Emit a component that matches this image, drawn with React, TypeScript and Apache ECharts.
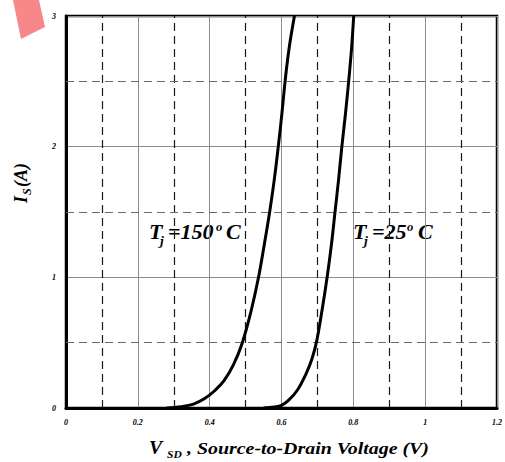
import React, { useEffect, useRef } from "react";
import * as echarts from "echarts";

// Source-to-drain voltage (V) vs source current (A) at two junction temperatures
const vsdHot = [0.28, 0.32, 0.355, 0.385, 0.413, 0.44, 0.466, 0.491, 0.516, 0.536, 0.552, 0.567, 0.58, 0.591, 0.601, 0.61, 0.621, 0.636];
const isHot = [0, 0.01, 0.03, 0.07, 0.13, 0.21, 0.33, 0.5, 0.75, 1.0, 1.25, 1.5, 1.75, 2.0, 2.25, 2.5, 2.75, 3.0];

const vsdCold = [0.55, 0.58, 0.6, 0.62, 0.645, 0.668, 0.684, 0.697, 0.713, 0.727, 0.739, 0.749, 0.759, 0.768, 0.778, 0.787, 0.795, 0.801];
const isCold = [0, 0.008, 0.02, 0.06, 0.14, 0.26, 0.37, 0.5, 0.75, 1.0, 1.25, 1.5, 1.75, 2.0, 2.25, 2.5, 2.75, 3.0];

// Dashed half-division grid lines
const dashedV = [0.1, 0.3, 0.5, 0.7, 0.9, 1.1];
const dashedI = [0.5, 1.5, 2.5];

const xTickLabels: Record<string, string> = {
  "0": "0", "0.2": "0.2", "0.4": "0.4", "0.6": "0.6", "0.8": "0.8", "1": "1", "1.2": "1.2",
};

const SERIF = "'Liberation Serif', 'Times New Roman', serif";

function piece(text: string, x: number, baseline: number, size: number, sx = 1) {
  return {
    type: "text",
    x,
    y: baseline - size * 0.34,
    scaleX: sx,
    silent: true,
    style: {
      text,
      fill: "#000",
      font: `italic bold ${size}px ${SERIF}`,
      align: "left",
      verticalAlign: "middle",
    },
  };
}

export default function App() {
  const ref = useRef<HTMLDivElement>(null);

  useEffect(() => {
    if (!ref.current) return;
    document.body.style.margin = "0";
    const chart = echarts.init(ref.current, undefined, { renderer: "svg" });

    const zip = (xs: number[], ys: number[]) => xs.map((v, i) => [v, ys[i]]);

    chart.setOption({
      animation: false,
      backgroundColor: "#fff",
      grid: {
        left: 66,
        right: 5,
        top: 16,
        bottom: 54,
        show: true,
        borderColor: "#000",
        borderWidth: 2.5,
      },
      xAxis: {
        type: "value",
        min: 0,
        max: 1.2,
        interval: 0.2,
        axisLine: { show: true, lineStyle: { color: "#000", width: 3 } },
        axisTick: { show: false },
        axisLabel: {
          margin: 10,
          color: "#000",
          fontFamily: SERIF,
          fontStyle: "italic",
          fontWeight: "bold",
          fontSize: 8,
          formatter: (v: number) => xTickLabels[String(Math.round(v * 10) / 10)] ?? "",
        },
        splitLine: { show: true, lineStyle: { color: "#8c8c8c", width: 1 } },
      },
      yAxis: {
        type: "value",
        min: 0,
        max: 3,
        interval: 1,
        axisLine: { show: true, lineStyle: { color: "#000", width: 3 } },
        axisTick: { show: false },
        axisLabel: {
          margin: 10,
          color: "#000",
          fontFamily: SERIF,
          fontStyle: "italic",
          fontWeight: "bold",
          fontSize: 8,
        },
        splitLine: { show: true, lineStyle: { color: "#8c8c8c", width: 1 } },
      },
      graphic: [
        {
          type: "polygon",
          silent: true,
          shape: { points: [[13, 0], [39, 0], [45, 27], [21, 39]] },
          style: { fill: "#f8878a" },
        },
        // Curve annotations
        piece("T", 149, 239, 21, 1.05),
        piece("j", 160, 245, 13, 1.05),
        piece("=150", 168, 239, 21, 1.05),
        piece("o", 216, 231, 12, 1.05),
        piece("C", 226, 239, 21, 1.05),
        piece("T", 353, 239, 21, 1.05),
        piece("j", 364, 245, 13, 1.05),
        piece("=25", 372, 239, 21, 1.05),
        piece("o", 407, 231, 12, 1.05),
        piece("C", 418, 239, 21, 1.05),
        // X axis title
        piece("V", 149, 454, 18, 1.1),
        piece("SD", 167, 458, 11, 1.05),
        piece(", Source-to-Drain Voltage (V)", 187, 454, 17, 1.17),
        // Y axis title (rotated)
        {
          type: "group",
          x: 27,
          y: 203,
          rotation: Math.PI / 2,
          silent: true,
          children: [
            piece("I", 0, 0, 18),
            piece("S", 8, 4, 12),
            piece("(A)", 16, 0, 18),
          ],
        },
      ],
      series: [
        {
          type: "line",
          data: [],
          silent: true,
          markLine: {
            silent: true,
            symbol: "none",
            label: { show: false },
            data: [
              ...dashedV.map((v) => ({
                xAxis: v,
                lineStyle: { color: "#1a1a1a", width: 1.2, type: [8, 5] },
              })),
              ...dashedI.map((v) => ({
                yAxis: v,
                lineStyle: { color: "#6a6a6a", width: 1.2, type: [8, 5] },
              })),
            ],
          },
        },
        {
          name: "Tj=150°C",
          type: "line",
          data: zip(vsdHot, isHot),
          smooth: 0.4,
          showSymbol: false,
          clip: true,
          lineStyle: { color: "#000", width: 3 },
          z: 5,
        },
        {
          name: "Tj=25°C",
          type: "line",
          data: zip(vsdCold, isCold),
          smooth: 0.4,
          showSymbol: false,
          clip: true,
          lineStyle: { color: "#000", width: 3 },
          z: 5,
        },
      ],
    });

    return () => chart.dispose();
  }, []);

  return <div ref={ref} style={{ width: 505, height: 462 }} />;
}
